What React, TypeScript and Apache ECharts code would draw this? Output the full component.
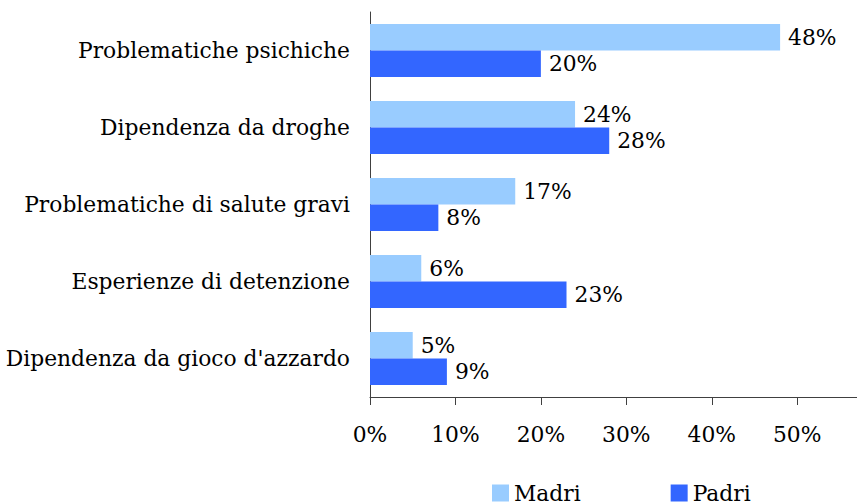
import React, { useEffect, useRef } from "react";
import * as echarts from "echarts";

const categories = [
  "Problematiche psichiche",
  "Dipendenza da droghe",
  "Problematiche di salute gravi",
  "Esperienze di detenzione",
  "Dipendenza da gioco d'azzardo",
];
const madri = [0.48, 0.24, 0.17, 0.06, 0.05];
const padri = [0.2, 0.28, 0.08, 0.23, 0.09];
const seriesNames = ["Madri", "Padri"];

const FONT = "DejaVu Serif";
const FS = 21.8;

export default function App() {
  const ref = useRef<HTMLDivElement>(null);
  useEffect(() => {
    if (!ref.current) return;
    const chart = echarts.init(ref.current, undefined, { renderer: "svg" });
    const pct = (v: number) => Math.round(v * 100) + "%";
    const lbl = {
      show: true,
      position: "right",
      distance: 8,
      fontFamily: FONT,
      fontSize: FS,
      color: "#000",
      formatter: (p: any) => pct(p.value),
    };
    chart.setOption({
      animation: false,
      textStyle: { fontFamily: FONT },
      grid: { left: 370, top: 12, right: 0, bottom: 107, containLabel: false },
      legend: {
        data: seriesNames,
        top: 477,
        left: 487,
        itemWidth: 17,
        itemHeight: 17,
        itemGap: 90,
        icon: "rect",
        textStyle: { fontFamily: FONT, fontSize: FS, color: "#000" },
      },
      xAxis: {
        type: "value",
        min: 0,
        max: 0.57,
        interval: 0.1,
        splitLine: { show: false },
        axisLine: { show: true, lineStyle: { color: "#404040", width: 1 } },
        axisTick: { show: true, length: 8, lineStyle: { color: "#404040" } },
        axisLabel: {
          fontFamily: FONT,
          fontSize: FS,
          color: "#000",
          margin: 26,
          showMaxLabel: false,
          formatter: (v: number) => pct(v),
        },
      },
      yAxis: {
        type: "category",
        data: categories,
        inverse: true,
        axisLine: { show: true, lineStyle: { color: "#404040", width: 1 } },
        axisTick: { show: false },
        axisLabel: { fontFamily: FONT, fontSize: FS, color: "#000", margin: 20 },
      },
      series: [
        {
          name: seriesNames[0],
          type: "bar",
          data: madri,
          barGap: "0%",
          barCategoryGap: "31%",
          itemStyle: { color: "#99CCFF" },
          label: lbl,
        },
        {
          name: seriesNames[1],
          type: "bar",
          data: padri,
          barGap: "0%",
          barCategoryGap: "31%",
          itemStyle: { color: "#3366FF" },
          label: lbl,
        },
      ],
    });
    return () => chart.dispose();
  }, []);
  return <div ref={ref} style={{ width: 857, height: 504, position: "absolute", left: 0, top: 0 }} />;
}
